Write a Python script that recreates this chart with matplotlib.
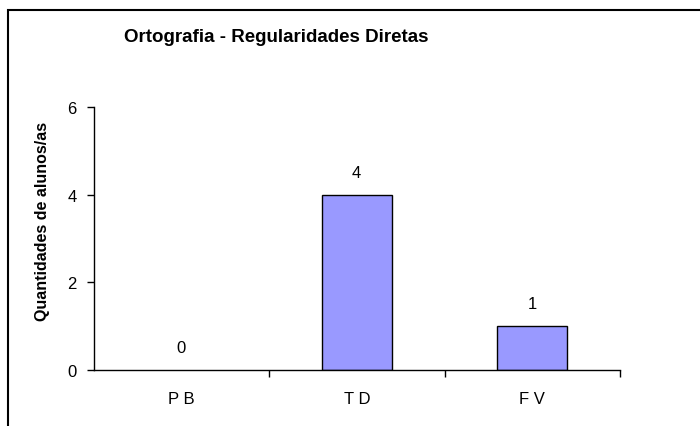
import matplotlib.pyplot as plt
from matplotlib.patches import Rectangle

# dados
categorias = ["P B", "T D", "F V"]
quantidades = [0, 4, 1]
titulo = "Ortografia - Regularidades Diretas"
rotulo_y = "Quantidades de alunos/as"

plt.rcParams['font.family'] = ['Liberation Sans', 'DejaVu Sans']

fig = plt.figure(figsize=(7, 4.27), dpi=100)
ax = fig.add_axes([93.5 / 700, 1 - 371 / 427, (620 - 93.5) / 700, (371 - 108) / 427])

x = list(range(len(categorias)))
# sem contorno para barras de valor zero
larguras_borda = [1 if v > 0 else 0 for v in quantidades]
ax.bar(x, quantidades, width=0.4, color='#9999ff', edgecolor='black',
       linewidth=larguras_borda)

# rótulos de valor acima das barras
for xi, v in zip(x, quantidades):
    ax.annotate(str(v), (xi, v), xytext=(0, 16), textcoords='offset points',
                ha='center', va='center', fontsize=12)

ax.set_xlim(-0.5, len(categorias) - 0.5)
ax.set_ylim(0, 6)
ax.set_yticks([0, 2, 4, 6])

# marcas entre categorias, rótulos no centro
ax.set_xticks([i + 0.5 for i in x])
ax.set_xticklabels([])
ax.set_xticks(x, minor=True)
ax.set_xticklabels(categorias, minor=True)
ax.tick_params(axis='x', which='major', direction='out', length=5, width=1)
ax.tick_params(axis='x', which='minor', length=0, pad=15, labelsize=12)
ax.tick_params(axis='y', direction='out', length=5, width=1, labelsize=12, pad=7)

for s in ['top', 'right']:
    ax.spines[s].set_visible(False)
for s in ['left', 'bottom']:
    ax.spines[s].set_linewidth(1)

fig.text(43 / 700, 1 - 221 / 427, rotulo_y, rotation=90, ha='center', va='center',
         fontsize=11.5, fontweight='bold')
fig.text(276 / 700, 1 - 38 / 427, titulo, ha='center', va='center',
         fontsize=13.5, fontweight='bold')

# moldura do gráfico
fig.patches.append(Rectangle((7.5 / 700, -0.1), 1.2, 1 - 11 / 427 + 0.1,
                             transform=fig.transFigure, fill=False,
                             edgecolor='black', linewidth=1.5, clip_on=False))

fig.savefig('out.png', dpi=100)
